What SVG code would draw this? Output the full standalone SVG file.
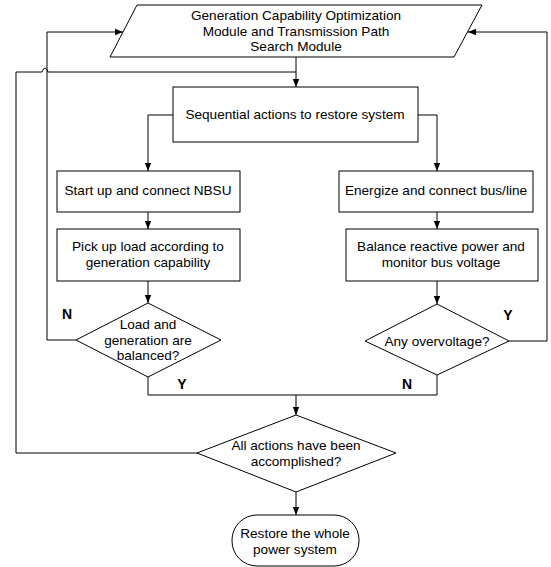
<svg xmlns="http://www.w3.org/2000/svg" width="551" height="567" viewBox="0 0 551 567">
  <style>
    .shape { fill: #ffffff; stroke: #000000; stroke-width: 1; }
    .wire { fill: none; stroke: #000000; stroke-width: 1; }
    text { font-family: "Liberation Sans", Arial, sans-serif; font-size: 13.6px; fill: #000000; text-anchor: middle; }
    .flag { font-size: 14px; font-weight: bold; }
  </style>
  <defs>
    <marker id="arrow" viewBox="0 0 8 8" refX="8" refY="4" markerWidth="8" markerHeight="8" markerUnits="userSpaceOnUse" orient="auto">
      <path d="M0,0.8 L8,4 L0,7.2 Z" fill="#000000"/>
    </marker>
  </defs>
  <rect width="551" height="567" fill="#ffffff"/>

  <!-- connectors -->
  <g id="connectors">
    <!-- module to sequential actions -->
    <path class="wire" d="M296,57 V87" marker-end="url(#arrow)"/>
    <!-- completion loop back into sequence (with jump over the N loop) -->
    <path class="wire" d="M197,453 H16 V72 H42 Q45,64 48,72 H296"/>
    <!-- branches -->
    <path class="wire" d="M173,115 H148 V171" marker-end="url(#arrow)"/>
    <path class="wire" d="M418,115 H437 V171" marker-end="url(#arrow)"/>
    <path class="wire" d="M148,212 V229" marker-end="url(#arrow)"/>
    <path class="wire" d="M437,212 V229" marker-end="url(#arrow)"/>
    <path class="wire" d="M148,281 V303" marker-end="url(#arrow)"/>
    <path class="wire" d="M437,281 V304" marker-end="url(#arrow)"/>
    <!-- N loop (left) and Y loop (right) back to module -->
    <path class="wire" d="M76,340 H47 V32 H123" marker-end="url(#arrow)"/>
    <path class="wire" d="M509,341 H547 V32 H468" marker-end="url(#arrow)"/>
    <!-- merge to final check -->
    <path class="wire" d="M148,377 V395 H437 V375"/>
    <path class="wire" d="M296,395 V415" marker-end="url(#arrow)"/>
    <path class="wire" d="M296,492 V515" marker-end="url(#arrow)"/>
  </g>

  <g id="module">
    <polygon class="shape" points="137,5 482,5 454,57 110,57"/>
    <text x="296" y="20">Generation Capability Optimization</text>
    <text x="296" y="36">Module and Transmission Path</text>
    <text x="296" y="51">Search Module</text>
  </g>

  <g id="sequence">
    <rect class="shape" x="173" y="87" width="245" height="55"/>
    <text x="295" y="119">Sequential actions to restore system</text>
  </g>

  <g id="startup">
    <rect class="shape" x="57" y="171" width="183" height="41"/>
    <text x="148" y="195">Start up and connect NBSU</text>
  </g>

  <g id="pickup">
    <rect class="shape" x="57" y="229" width="183" height="52"/>
    <text x="148" y="251">Pick up load according to</text>
    <text x="148" y="267">generation capability</text>
  </g>

  <g id="balanced">
    <polygon class="shape" points="148,303 221,340 148,377 76,340"/>
    <text x="148" y="329">Load and</text>
    <text x="148" y="345">generation are</text>
    <text x="148" y="360">balanced?</text>
  </g>

  <g id="energize">
    <rect class="shape" x="339" y="171" width="194" height="41"/>
    <text x="436" y="195">Energize and connect bus/line</text>
  </g>

  <g id="reactive">
    <rect class="shape" x="346" y="229" width="192" height="52"/>
    <text x="441" y="251">Balance reactive power and</text>
    <text x="441" y="267">monitor bus voltage</text>
  </g>

  <g id="overvoltage">
    <polygon class="shape" points="437,304 509,341 437,375 365,341"/>
    <text x="437" y="346">Any overvoltage?</text>
  </g>

  <g id="accomplished">
    <polygon class="shape" points="296,415 396,453 296,492 197,453"/>
    <text x="296" y="450">All actions have been</text>
    <text x="296" y="466">accomplished?</text>
  </g>

  <g id="restore">
    <rect class="shape" x="232" y="515" width="127" height="51" rx="25" ry="25"/>
    <text x="295" y="538">Restore the whole</text>
    <text x="295" y="554">power system</text>
  </g>

  <g id="labels">
    <text class="flag" x="67" y="319">N</text>
    <text class="flag" x="182" y="389">Y</text>
    <text class="flag" x="508" y="320">Y</text>
    <text class="flag" x="407" y="389">N</text>
  </g>
</svg>
